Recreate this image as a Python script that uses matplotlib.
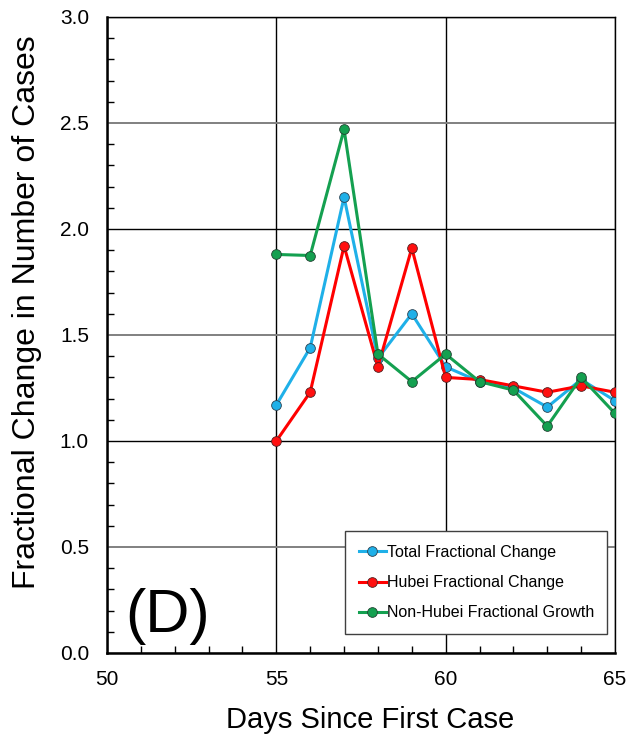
import matplotlib
matplotlib.use("Agg")
import matplotlib.pyplot as plt
from matplotlib.ticker import MultipleLocator

plt.rcParams['font.family'] = ['Liberation Sans', 'DejaVu Sans']

days = [55, 56, 57, 58, 59, 60, 61, 62, 63, 64, 65]
total = [1.17, 1.44, 2.15, 1.39, 1.60, 1.35, 1.28, 1.25, 1.16, 1.29, 1.19]
hubei = [1.00, 1.23, 1.92, 1.35, 1.91, 1.30, 1.29, 1.26, 1.23, 1.26, 1.23]
non_hubei = [1.88, 1.875, 2.47, 1.41, 1.28, 1.41, 1.28, 1.24, 1.07, 1.30, 1.13]

fig = plt.figure(figsize=(6.28, 7.40), dpi=100)
ax = fig.add_axes([107/628, 1 - 653/740, 508/628, 636/740])

ax.plot(days, total, '-o', color='#1fb0e8', lw=2.2, ms=7, mfc='#1fb0e8', mec='#2a4050', mew=0.6,
        label='Total Fractional Change', zorder=3)
ax.plot(days, hubei, '-o', color='#ff0000', lw=2.2, ms=7, mfc='#ff1010', mec='#502020', mew=0.6,
        label='Hubei Fractional Change', zorder=4)
ax.plot(days, non_hubei, '-o', color='#14a050', lw=2.2, ms=7, mfc='#14a050', mec='#204030', mew=0.6,
        label='Non-Hubei Fractional Growth', zorder=5)

ax.set_xlim(50, 65)
ax.set_ylim(0, 3)
ax.xaxis.set_major_locator(MultipleLocator(5))
ax.xaxis.set_minor_locator(MultipleLocator(1))
ax.yaxis.set_major_locator(MultipleLocator(0.5))
ax.yaxis.set_minor_locator(MultipleLocator(0.1))
ax.yaxis.set_major_formatter(matplotlib.ticker.FormatStrFormatter('%.1f'))

ax.grid(True, which='major', color='black', lw=1.0)
for t, g in zip(ax.get_yticks(), ax.get_ygridlines()):
    if abs(t - round(t)) > 0.01:
        g.set_color('#808080')
        g.set_linewidth(1.4)

ax.tick_params(which='both', direction='in', top=False, right=False)
ax.tick_params(which='major', length=0, labelsize=15)
ax.tick_params(axis='y', which='major', pad=13)
ax.tick_params(axis='x', which='major', pad=12)
ax.tick_params(which='minor', length=5, width=1)
for s in ['left', 'bottom']:
    ax.spines[s].set_linewidth(1.8)
for s in ['top', 'right']:
    ax.spines[s].set_linewidth(1.0)

ax.set_xlabel('Days Since First Case', fontsize=21)
ax.set_ylabel('Fractional Change in Number of Cases', fontsize=23)
ax.xaxis.set_label_coords(0.518, -0.084)
ax.yaxis.set_label_coords(-0.128, 0.536)

ax.text(0.035, 0.012, '(D)', transform=ax.transAxes, fontsize=44, ha='left', va='bottom')

leg = ax.legend(loc='lower right', bbox_to_anchor=(0.985, 0.03), fontsize=11.5, frameon=True,
                fancybox=False, edgecolor='#404040', framealpha=1, handlelength=1.7,
                handletextpad=0.05, labelspacing=0.95, borderpad=0.85, borderaxespad=0)
leg.get_frame().set_linewidth(1.0)

fig.savefig('out.png', dpi=100)
